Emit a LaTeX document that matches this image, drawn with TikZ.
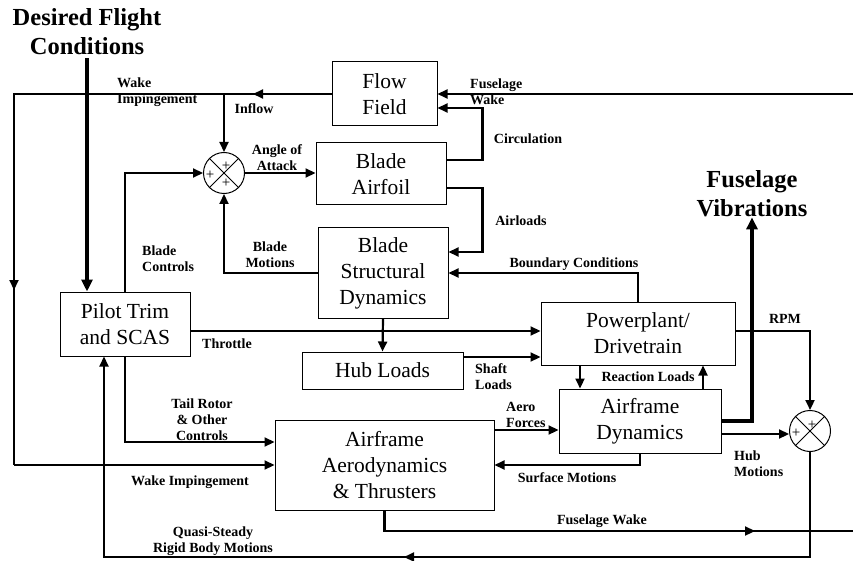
\documentclass[tikz,border=0pt]{standalone}
\usepackage{fontspec}
\setmainfont{Liberation Serif}
\usetikzlibrary{arrows.meta}
\tikzset{
  blk/.style={draw, line width=1pt, align=center, inner sep=0pt,
    font=\fontsize{21.5}{26}\selectfont},
  lbl/.style={font=\fontsize{14}{16}\selectfont\bfseries, inner sep=0pt, align=center},
  title/.style={font=\fontsize{24.5}{29}\selectfont\bfseries, inner sep=0pt, align=center},
  wire/.style={line width=2.2pt},
  conn/.style={wire, -{Triangle[length=10pt,width=9pt]}},
  bigconn/.style={line width=4pt, -{Triangle[length=12pt,width=11pt]}},
  summer/.style={draw, circle, line width=1pt, minimum size=41pt, inner sep=0pt},
  plus/.style={font=\fontsize{15}{15}\selectfont, inner sep=0pt},
}
\begin{document}
\begin{tikzpicture}[x=1pt,y=-1pt]
\useasboundingbox (0,0) rectangle (853,561);
% blocks
\node[blk, minimum width=105pt, minimum height=64pt] (flow) at (384.5,94) {Flow\\Field};
\node[blk, minimum width=130pt, minimum height=62pt] (foil) at (381,174) {Blade\\Airfoil};
\node[blk, minimum width=130pt, minimum height=90pt] (struct) at (383,273) {Blade\\Structural\\Dynamics};
\node[blk, minimum width=130pt, minimum height=64pt] (pilot) at (125,324) {Pilot Trim\\and SCAS};
\node[blk, minimum width=161pt, minimum height=37pt] (hub) at (382.5,370.5) {Hub Loads};
\node[blk, minimum width=194pt, minimum height=63pt] (power) at (638,333.5) {Powerplant/\\Drivetrain};
\node[blk, minimum width=162pt, minimum height=64pt] (dyn) at (640,421) {Airframe\\Dynamics};
\node[blk, minimum width=219pt, minimum height=90pt] (aero) at (384.5,465) {Airframe\\Aerodynamics\\\& Thrusters};
\node[summer] (s1) at (224,173) {};
\node[summer] (s2) at (810,431) {};
\draw[line width=1pt] (s1.45) -- (s1.225) (s1.135) -- (s1.315);
\draw[line width=1pt] (s2.45) -- (s2.225) (s2.135) -- (s2.315);
\node[plus] at (226,166) {+};
\node[plus] at (210,175) {+};
\node[plus] at (226,183) {+};
\node[plus] at (796,433) {+};
\node[plus] at (812,425) {+};
% titles
\node[title] (desired) at (87,32) {Desired Flight\\Conditions};
\node[title] (vibtxt) at (752,194) {Fuselage\\Vibrations};
% free ends
\coordinate (tl) at (14,94);
\coordinate (bl) at (14,465);
\coordinate (wkL) at (253,94);
\coordinate (wkD) at (14,290);
\coordinate (fwR) at (853,94);
\coordinate (fwout) at (853,531);
\coordinate (fwarr) at (755,531);
\coordinate (qs) at (810,557);
\coordinate (qsarr) at (404,557);
% connectors
\draw[wire] (flow.west) -- (tl) -- (bl);
\draw[conn] (flow.west) -- (wkL);
\draw[conn] (tl) -- (wkD);
\draw[conn] (bl) -- (aero.west);
\draw[conn] (s1.north |- tl) -- (s1.north);
\draw[conn] (fwR) -- (flow.east);
\draw[bigconn] (desired.south) ++(0,3) -- (desired.south |- pilot.north);
\draw[conn] ([yshift=14pt]foil.east) -- ++(36,0) |- ([yshift=-14pt]flow.east);
\draw[conn] ([yshift=-14pt]foil.east) -- ++(36,0) |- ([yshift=21pt]struct.east);
\draw[conn] (power.north) |- (struct.east);
\draw[conn] (s1.east) -- (s1.east -| foil.west);
\draw[conn] (struct.west) -| (s1.south);
\draw[conn] (pilot.north) |- (s1.west);
\draw[conn] ([yshift=-7pt]pilot.east) -- ([yshift=-7pt]pilot.east -| power.west);
\draw[conn] (struct.south) -- (hub.north);
\draw[conn] ([yshift=13.5pt]hub.east) -- ([yshift=13.5pt]hub.east -| power.west);
\draw[conn] ([xshift=-58pt]power.south) -- ([xshift=-58pt]power.south |- dyn.north);
\draw[conn] ([xshift=65pt]power.south |- dyn.north) -- ([xshift=65pt]power.south);
\draw[conn] ([yshift=2.5pt]power.east) -| (s2.north);
\draw[bigconn] (dyn.east) -| (vibtxt.south);
\draw[conn] ([yshift=-13pt]dyn.east) -- ([yshift=-13pt]dyn.east -| s2.west);
\draw[conn] ([yshift=35pt]aero.east) -- ([yshift=35pt]aero.east -| dyn.west);
\draw[conn] (dyn.south) |- (aero.east);
\draw[conn] (pilot.south) |- ([yshift=23pt]aero.west);
\draw[wire] (aero.south) |- (fwout);
\draw[conn] (aero.south |- fwout) -- (fwarr);
\draw[conn] (s2.south) -- (qs) -| ([xshift=-21pt]pilot.south);
\draw[conn] (qs) -- (qsarr);
% labels
\node[lbl, align=left, anchor=west] at (117,92) {Wake\\Impingement};
\node[lbl] at (254,109) {Inflow};
\node[lbl, align=left, anchor=west] at (470,92) {Fuselage\\Wake};
\node[lbl] at (528,139) {Circulation};
\node[lbl] at (277,158) {Angle of\\Attack};
\node[lbl] at (521,221) {Airloads};
\node[lbl] at (270,255) {Blade\\Motions};
\node[lbl, align=left, anchor=west] at (142,259) {Blade\\Controls};
\node[lbl] at (574,264) {Boundary Conditions};
\node[lbl] at (227,344) {Throttle};
\node[lbl, align=left, anchor=west] at (475,377) {Shaft\\Loads};
\node[lbl] at (648,377) {Reaction Loads};
\node[lbl] at (785,319) {RPM};
\node[lbl] at (202,420) {Tail Rotor\\\& Other\\Controls};
\node[lbl] at (190,482) {Wake Impingement};
\node[lbl, align=left, anchor=west] at (506,415) {Aero\\Forces};
\node[lbl] at (567,478) {Surface Motions};
\node[lbl, align=left, anchor=west] at (734,464) {Hub\\Motions};
\node[lbl] at (602,521) {Fuselage Wake};
\node[lbl] at (213,541) {Quasi-Steady\\Rigid Body Motions};
\end{tikzpicture}
\end{document}
